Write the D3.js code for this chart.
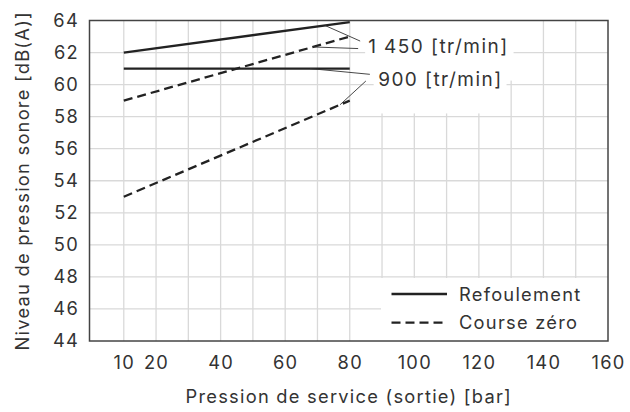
<!DOCTYPE html>
<html>
<head>
<meta charset="utf-8">
<script src="https://cdn.jsdelivr.net/npm/d3@7"></script>
<style>
  html, body { margin: 0; padding: 0; background: #fff; }
  svg { display: block; }
  text { font-family: Inter, "Liberation Sans", sans-serif; fill: #333; letter-spacing: 1.25px; }
  text.speed { letter-spacing: 1.45px; }
</style>
</head>
<body>
<svg id="chart" width="630" height="412"></svg>
<script>
// Operating pressure [bar] at the two ends of each measured line
const pressure = [10, 80];

// Sound pressure level [dB(A)]
const refoulement1450 = [62, 63.9];
const refoulement900 = [61, 61];
const courseZero1450 = [59, 63];
const courseZero900 = [53, 59];

const xTicks = [10, 20, 40, 60, 80, 100, 120, 140, 160];
const xGrid = [10, 20, 30, 40, 50, 60, 70, 80, 90, 100, 110, 120, 130, 140, 150];
const yTicks = [44, 46, 48, 50, 52, 54, 56, 58, 60, 62, 64];

const speedLabels = ["1 450 [tr/min]", "900 [tr/min]"];
const legendLabels = ["Refoulement", "Course zéro"];
const xTitle = "Pression de service (sortie) [bar]";
const yTitle = "Niveau de pression sonore [dB(A)]";

const svg = d3.select("#chart");
const plotLeft = 89.5, plotRight = 608, plotTop = 20.5, plotBottom = 341;
const fontSize = 18.3;

const x = d3.scaleLinear().domain([0, 160]).range([91.5, plotRight]);
const y = d3.scaleLinear().domain([44, 64]).range([plotBottom, plotTop]);

// grid
const grid = svg.append("g").attr("stroke", "#d9d9d9").attr("stroke-width", 1.3);
grid.selectAll("line.v").data(xGrid).join("line").attr("class", "v")
  .attr("x1", d => x(d)).attr("x2", d => x(d)).attr("y1", plotTop).attr("y2", plotBottom);
grid.selectAll("line.h").data(yTicks.slice(1, -1)).join("line").attr("class", "h")
  .attr("x1", plotLeft).attr("x2", plotRight).attr("y1", d => y(d)).attr("y2", d => y(d));

// series
const series = [
  { values: refoulement1450, dash: null },
  { values: refoulement900, dash: null },
  { values: courseZero1450, dash: "9,5" },
  { values: courseZero900, dash: "9,5" }
];
const line = d3.line().x(d => x(d[0])).y(d => y(d[1]));
svg.append("g").selectAll("path").data(series).join("path")
  .attr("d", s => line(pressure.map((p, i) => [p, s.values[i]])))
  .attr("fill", "none").attr("stroke", "#222").attr("stroke-width", 2.3)
  .attr("stroke-dasharray", s => s.dash);

// value along a series at a given pressure
const at = (vals, p) => d3.scaleLinear().domain(pressure).range(vals)(p);

// speed labels with leader lines
const labels = [
  { text: speedLabels[0], px: 85.7, py: 61.95, box: [-3, 5], boxTop: 64, boxBottom: 60.25,
    leaders: [[refoulement1450, 72.3, -8, -12.3], [courseZero1450, 68.6, -10, -4.8]] },
  { text: speedLabels[1], px: 88.8, py: 59.93, box: [-4.5, 4], boxTop: 60.25, boxBottom: 58.2,
    leaders: [[refoulement900, 67.7, -8.3, -11.4], [courseZero900, 77, -12.3, -4.7]] }
];
labels.forEach(l => {
  const tx = x(l.px), ty = y(l.py);
  const g = svg.append("g");
  const rect = g.append("rect").attr("fill", "#fff");
  const t = g.append("text").attr("class", "speed").attr("x", tx).attr("y", ty)
    .attr("font-size", 19).text(l.text);
  const w = t.node().getComputedTextLength();
  rect.attr("x", tx + l.box[0]).attr("width", w - l.box[0] + l.box[1])
    .attr("y", y(l.boxTop)).attr("height", y(l.boxBottom) - y(l.boxTop));
  l.leaders.forEach(([vals, p, dx, dy]) => {
    svg.append("line")
      .attr("x1", x(p)).attr("y1", y(at(vals, p)))
      .attr("x2", tx + dx).attr("y2", ty + dy)
      .attr("stroke", "#333").attr("stroke-width", 0.9);
  });
});

// legend
const lg = svg.append("g");
lg.append("rect").attr("x", 381).attr("y", 278).attr("width", plotRight - 381).attr("height", plotBottom - 278)
  .attr("fill", "#fff");
legendLabels.forEach((name, i) => {
  const ly = 294 + i * 28.7;
  lg.append("line").attr("x1", 391.5).attr("x2", 447).attr("y1", ly).attr("y2", ly)
    .attr("stroke", "#222").attr("stroke-width", 2.3)
    .attr("stroke-dasharray", series[i * 2].dash);
  lg.append("text").attr("x", 459).attr("y", ly).attr("dy", "0.36em")
    .attr("font-size", fontSize).text(name);
});

// frame
svg.append("rect").attr("x", plotLeft).attr("y", plotTop)
  .attr("width", plotRight - plotLeft).attr("height", plotBottom - plotTop)
  .attr("fill", "none").attr("stroke", "#444").attr("stroke-width", 1.5);

// axes
const xAxis = svg.append("g").attr("transform", `translate(0,${plotBottom})`)
  .call(d3.axisBottom(x).tickValues(xTicks).tickSize(0).tickPadding(15.5));
const yAxis = svg.append("g").attr("transform", `translate(${plotLeft},0)`)
  .call(d3.axisLeft(y).tickValues(yTicks).tickSize(0).tickPadding(10.5));
[xAxis, yAxis].forEach(a => {
  a.attr("font-family", null).attr("font-size", null);
  a.select(".domain").remove();
  a.selectAll("text").attr("font-size", fontSize).attr("fill", "#333");
});

// axis titles
svg.append("text").attr("x", (plotLeft + plotRight) / 2).attr("y", 403)
  .attr("text-anchor", "middle").attr("font-size", fontSize).text(xTitle);
svg.append("text").attr("transform", `translate(28.5,${(plotTop + plotBottom) / 2}) rotate(-90)`)
  .attr("text-anchor", "middle").attr("font-size", fontSize).text(yTitle);
</script>
</body>
</html>
